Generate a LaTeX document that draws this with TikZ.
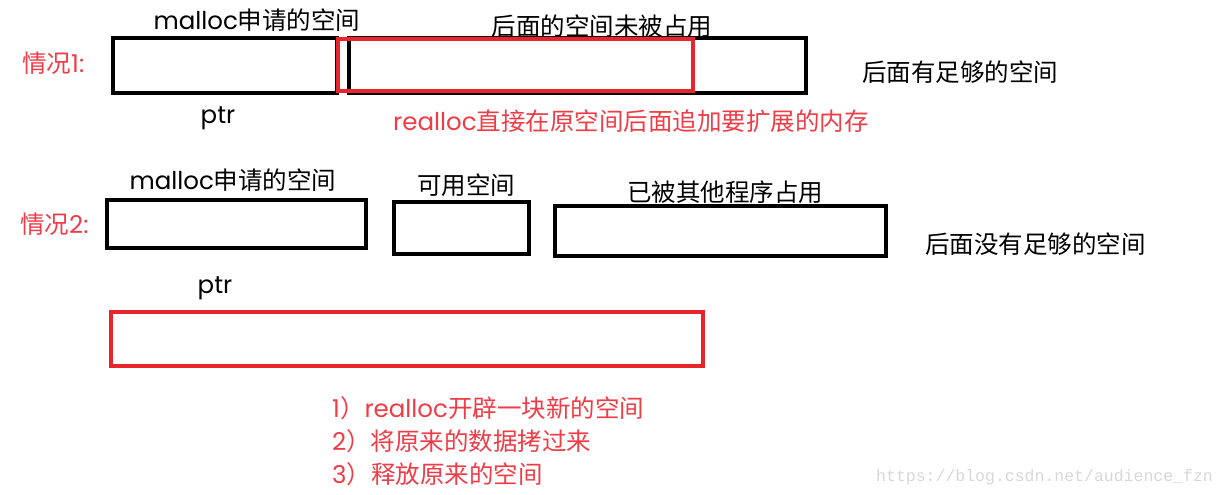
\documentclass[tikz,border=0pt]{standalone}
\usepackage{fontspec}
\setmainfont{Noto Sans CJK SC}
\newfontfamily\lat[Scale=1.0]{Poppins}
\newfontfamily\wm{Liberation Mono}
\definecolor{myred}{RGB}{232,36,44}
\definecolor{txtred}{RGB}{240,60,70}
\definecolor{wmgray}{RGB}{215,215,215}
\begin{document}
\begin{tikzpicture}[x=1pt,y=-1pt,
  blk/.style={draw=black,line width=3.4pt,anchor=north west,inner sep=0pt,outer sep=0pt},
  rbx/.style={draw=myred,line width=3.4pt,anchor=north west,inner sep=0pt,outer sep=0pt},
  lbl/.style={font=\fontsize{24.5}{28}\selectfont,inner sep=0pt,text=black},
  rlbl/.style={font=\fontsize{24.5}{28}\selectfont,inner sep=0pt,text=txtred}]
\useasboundingbox (0,0) rectangle (1227,495);
% case 1
\node[blk,minimum width=224pt,minimum height=55pt] (a1) at (113,38) {};
\node[blk,minimum width=457pt,minimum height=55pt] (a2) at (349,38) {};
\node[rbx,minimum width=355pt,minimum height=52pt] (r1) at (338,39) {};
\node[lbl] (t1) at (257,20) {{\lat malloc}申请的空间};
\node[lbl] (t2) at (602,26) {后面的空间未被占用};
\node[rlbl,anchor=west] (c1) at (22,63) {情况{\lat 1:}};
\node[lbl,anchor=west] (t3) at (862,72) {后面有足够的空间};
\node[lbl] (p1) at (218,118) {\lat ptr};
\node[rlbl,anchor=west] (t4) at (393,121) {{\lat realloc}直接在原空间后面追加要扩展的内存};
% case 2
\node[blk,minimum width=259pt,minimum height=48pt] (b1) at (107,200) {};
\node[blk,minimum width=135pt,minimum height=52pt] (b2) at (394,202) {};
\node[blk,minimum width=331pt,minimum height=50pt] (b3) at (555,206) {};
\node[lbl] (s1) at (233,180) {{\lat malloc}申请的空间};
\node[lbl] (s2) at (466,185) {可用空间};
\node[lbl] (s3) at (725,192) {已被其他程序占用};
\node[rlbl,anchor=west] (c2) at (20,224) {情况{\lat 2:}};
\node[lbl,anchor=west] (s4) at (925,244) {后面没有足够的空间};
\node[lbl] (p2) at (215,288) {\lat ptr};
\node[rbx,minimum width=592pt,minimum height=54pt] (r2) at (111,312) {};
\node[rlbl,anchor=west] (l1) at (332,408) {{\lat 1}）{\lat realloc}开辟一块新的空间};
\node[rlbl,anchor=west] (l2) at (332,441) {{\lat 2}）将原来的数据拷过来};
\node[rlbl,anchor=west] (l3) at (332,474) {{\lat 3}）释放原来的空间};
\node[anchor=west,inner sep=0pt,text=wmgray,font=\wm\fontsize{16.5}{18}\selectfont] (wm) at (876,477) {https://blog.csdn.net/audience\_fzn};
\end{tikzpicture}
\end{document}
